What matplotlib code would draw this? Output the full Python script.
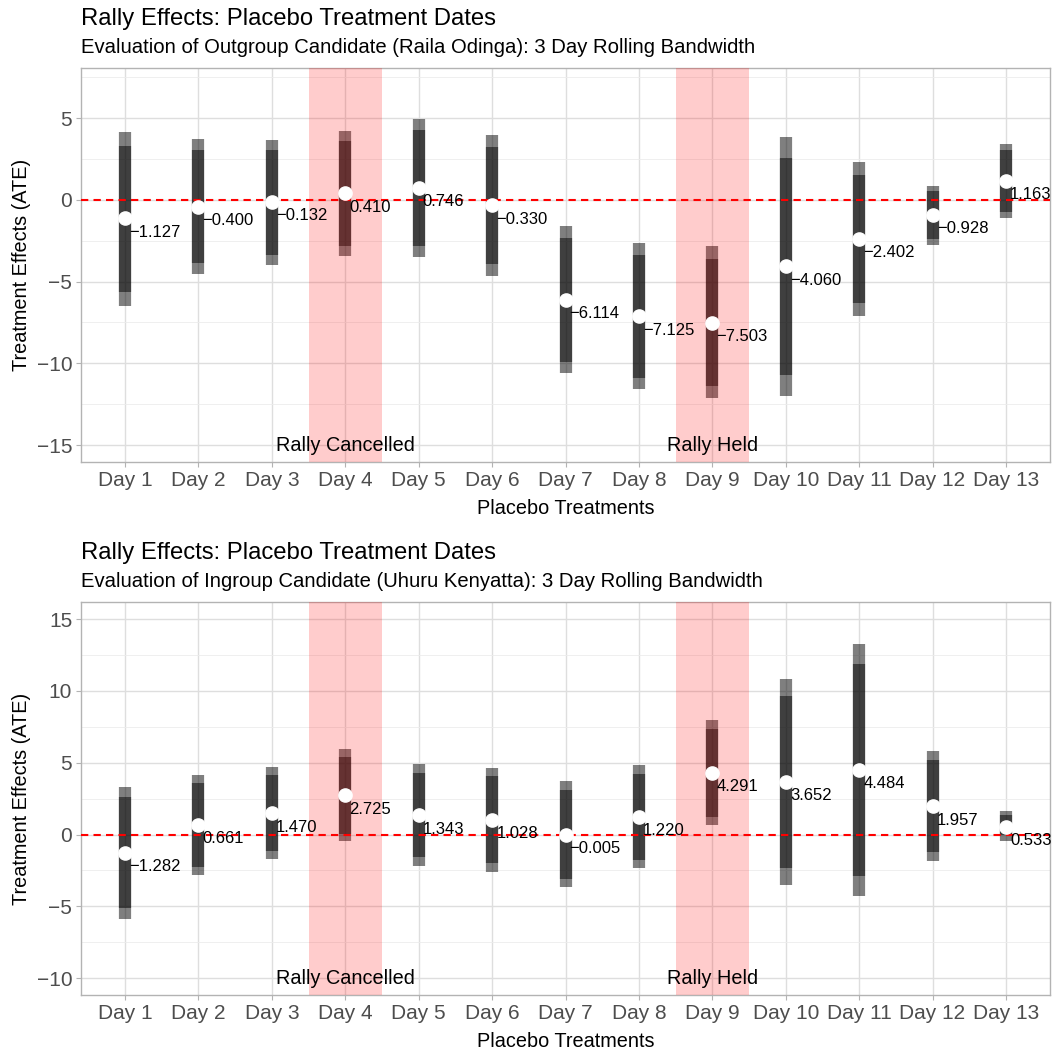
import matplotlib
matplotlib.use("Agg")
import matplotlib.pyplot as plt
from matplotlib.ticker import MultipleLocator

plt.rcParams['font.family'] = ['Liberation Sans', 'DejaVu Sans']

days = ["Day 1", "Day 2", "Day 3", "Day 4", "Day 5", "Day 6", "Day 7",
        "Day 8", "Day 9", "Day 10", "Day 11", "Day 12", "Day 13"]

# Outgroup candidate (Raila Odinga)
raila_ate = [-1.127, -0.400, -0.132, 0.410, 0.746, -0.330, -6.114,
             -7.125, -7.503, -4.060, -2.402, -0.928, 1.163]
raila_lo95 = [-6.46, -4.53, -3.95, -3.45, -3.49, -4.63, -10.62,
              -11.60, -12.15, -11.99, -7.09, -2.73, -1.12]
raila_hi95 = [4.18, 3.73, 3.69, 4.24, 4.95, 3.98, -1.59,
              -2.65, -2.81, 3.87, 2.30, 0.88, 3.42]
raila_lo90 = [-5.65, -3.87, -3.36, -2.81, -2.81, -3.94, -9.91,
              -10.89, -11.40, -10.72, -6.32, -2.41, -0.75]
raila_hi90 = [3.32, 3.06, 3.06, 3.63, 4.28, 3.26, -2.30,
              -3.34, -3.59, 2.59, 1.53, 0.57, 3.06]

# Ingroup candidate (Uhuru Kenyatta)
uhuru_ate = [-1.282, 0.661, 1.470, 2.725, 1.343, 1.028, -0.005,
             1.220, 4.291, 3.652, 4.484, 1.957, 0.533]
uhuru_lo95 = [-5.87, -2.82, -1.69, -0.45, -2.17, -2.59, -3.68,
              -2.36, 0.66, -3.50, -4.29, -1.87, -0.43]
uhuru_hi95 = [3.33, 4.17, 4.68, 5.94, 4.89, 4.65, 3.71,
              4.84, 7.96, 10.82, 13.30, 5.80, 1.62]
uhuru_lo90 = [-5.10, -2.29, -1.17, 0.03, -1.59, -2.01, -3.08,
              -1.78, 1.24, -2.33, -2.91, -1.24, -0.03]
uhuru_hi90 = [2.59, 3.61, 4.15, 5.42, 4.31, 4.08, 3.10,
              4.24, 7.37, 9.67, 11.88, 5.19, 1.36]

rally_days = [4, 9]
rally_labels = ["Rally Cancelled", "Rally Held"]

W, H = 1053, 1051
fig = plt.figure(figsize=(W / 100, H / 100), dpi=100)


def px_axes(left, top, right, bottom):
    return fig.add_axes([left / W, 1 - bottom / H, (right - left) / W, (bottom - top) / H])


def rally_plot(ax, ate, lo95, hi95, lo90, hi90, ylim, label_y, title, subtitle, title_y):
    x = list(range(1, len(days) + 1))
    ax.vlines(x, lo95, hi95, color='black', alpha=0.5, lw=8.8, zorder=2)
    ax.vlines(x, lo90, hi90, color='black', alpha=0.5, lw=8.8, zorder=2)
    for d, lab in zip(rally_days, rally_labels):
        ax.axvspan(d - 0.5, d + 0.5, color='red', alpha=0.2, lw=0, zorder=3)
        ax.text(d, label_y, lab, ha='center', va='center', fontsize=14.3, color='black', zorder=6)
    ax.axhline(0, color='red', lw=1.5, ls=(0, (3.5, 2.5)), zorder=4)
    ax.plot(x, ate, 'o', color='white', ms=9.5, mec='white', zorder=5)
    for xi, v in zip(x, ate):
        ax.annotate(f"{v:.3f}".replace("-", "\u2212"), (xi, v), xytext=(3, -4.5),
                    textcoords='offset points', ha='left', va='top',
                    fontsize=12, color='black', zorder=6, annotation_clip=False)

    ax.set_xlim(0.4, 13.6)
    ax.set_ylim(*ylim)
    ax.set_xticks(x)
    ax.set_xticklabels(days)
    ax.yaxis.set_major_locator(MultipleLocator(5))
    ax.yaxis.set_minor_locator(MultipleLocator(2.5))
    ax.yaxis.set_major_formatter(lambda v, p: f"{v:g}".replace("-", "\u2212"))
    ax.grid(which='major', color='#dedede', lw=1.0, zorder=0)
    ax.grid(which='minor', axis='y', color='#ececec', lw=0.6, zorder=0)
    ax.set_axisbelow(True)
    for s in ax.spines.values():
        s.set_color('#b3b3b3')
        s.set_linewidth(1.0)
    ax.tick_params(which='major', length=3.3, width=0.8, color='#b3b3b3',
                   labelsize=15, labelcolor='#4d4d4d', pad=3)
    ax.tick_params(which='minor', length=0)
    ax.set_xlabel("Placebo Treatments", fontsize=14.3, labelpad=6.5)
    ax.set_ylabel("Treatment Effects (ATE)", fontsize=14.3, labelpad=4)

    fig.text(81 / W, 1 - title_y / H, title, fontsize=17.2, va='baseline', ha='left')
    fig.text(81 / W, 1 - (title_y + 28) / H, subtitle, fontsize=14.6, va='baseline', ha='left')


ax1 = px_axes(81, 68, 1050, 462)
rally_plot(ax1, raila_ate, raila_lo95, raila_hi95, raila_lo90, raila_hi90,
           (-16.04, 8.08), -15, "Rally Effects: Placebo Treatment Dates",
           "Evaluation of Outgroup Candidate (Raila Odinga): 3 Day Rolling Bandwidth", 25)

ax2 = px_axes(81, 602, 1050, 995)
rally_plot(ax2, uhuru_ate, uhuru_lo95, uhuru_hi95, uhuru_lo90, uhuru_hi90,
           (-11.18, 16.2), -10, "Rally Effects: Placebo Treatment Dates",
           "Evaluation of Ingroup Candidate (Uhuru Kenyatta): 3 Day Rolling Bandwidth", 559)

fig.savefig("out.png", dpi=100)
